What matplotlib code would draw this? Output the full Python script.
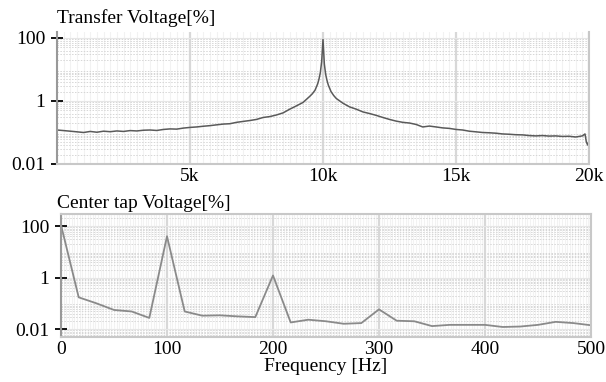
import matplotlib
matplotlib.use("Agg")
import matplotlib.pyplot as plt
import numpy as np
from matplotlib.ticker import FixedLocator, NullFormatter, MultipleLocator

plt.rcParams['font.family'] = ['Liberation Serif', 'DejaVu Serif']

# ---- data: transfer voltage (top) ----
transfer_freq = [0, 250, 500, 750, 1000, 1250, 1500, 1750, 2000, 2250, 2500, 2750,
                 3000, 3250, 3500, 3750, 4000, 4250, 4500, 4750, 5000, 5250, 5500,
                 5750, 6000, 6250, 6500, 6750, 7000, 7250, 7500, 7750, 8000, 8250,
                 8500, 8750, 9000, 9250, 9500, 9600, 9700, 9800, 9850, 9900, 9950,
                 10000, 10050, 10100, 10150, 10200, 10300, 10400, 10500, 10750,
                 11000, 11250, 11500, 11750, 12000, 12250, 12500, 12750, 13000,
                 13250, 13500, 13750, 14000, 14250, 14500, 14750, 15000, 15250,
                 15500, 15750, 16000, 16250, 16500, 16750, 17000, 17250, 17500,
                 17750, 18000, 18250, 18500, 18750, 19000, 19250, 19500, 19750,
                 19850, 19900, 19950, 20000]
transfer_pct = [0.12, 0.115, 0.11, 0.105, 0.10, 0.108, 0.102, 0.11, 0.106, 0.112,
                0.108, 0.115, 0.112, 0.118, 0.12, 0.116, 0.125, 0.13, 0.128, 0.138,
                0.145, 0.15, 0.158, 0.165, 0.175, 0.185, 0.19, 0.21, 0.225, 0.24,
                0.26, 0.3, 0.32, 0.36, 0.42, 0.55, 0.7, 0.9, 1.4, 1.7, 2.2, 3.5, 5,
                8, 18, 90, 15, 7, 4.5, 3.2, 2.0, 1.5, 1.2, 0.85, 0.65, 0.55, 0.45,
                0.4, 0.35, 0.3, 0.26, 0.23, 0.21, 0.2, 0.18, 0.15, 0.16, 0.15, 0.14,
                0.135, 0.125, 0.12, 0.11, 0.105, 0.1, 0.098, 0.095, 0.09, 0.088,
                0.085, 0.084, 0.08, 0.078, 0.08, 0.077, 0.078, 0.075, 0.076, 0.072,
                0.078, 0.09, 0.05, 0.04, 0.055]

# ---- data: center tap voltage (bottom) ----
center_freq = [0, 16.7, 33.3, 50, 66.7, 83.3, 100, 116.7, 133.3, 150, 166.7, 183.3,
               200, 216.7, 233.3, 250, 266.7, 283.3, 300, 316.7, 333.3, 350, 366.7,
               383.3, 400, 416.7, 433.3, 450, 466.7, 483.3, 500]
center_pct = [110, 0.17, 0.1, 0.055, 0.048, 0.027, 40, 0.048, 0.033, 0.034, 0.031,
              0.029, 1.2, 0.018, 0.023, 0.02, 0.016, 0.017, 0.058, 0.021, 0.02,
              0.013, 0.0145, 0.0145, 0.0145, 0.012, 0.0125, 0.0145, 0.019, 0.017,
              0.014]

top_xticks = [5000, 10000, 15000, 20000]
top_xlabels = ['5k', '10k', '15k', '20k']
bot_xticks = [0, 100, 200, 300, 400, 500]
bot_xlabels = ['0', '100', '200', '300', '400', '500']
yticks = [100, 1, 0.01]
ylabels = ['100', '1', '0.01']

W, H = 606, 382
FS = 14
fig = plt.figure(figsize=(W / 100, H / 100), dpi=100)


def px_axes(l, t, r, b):
    return fig.add_axes([l / W, 1 - b / H, (r - l) / W, (b - t) / H])


def style(ax, xticks, xlabels, minor_step):
    ax.set_yscale('log')
    ax.set_yticks(yticks)
    ax.set_yticklabels(ylabels)
    ax.yaxis.set_minor_locator(FixedLocator(
        [m * 10.0 ** e for e in range(-3, 3) for m in range(2, 10)]))
    ax.yaxis.set_minor_formatter(NullFormatter())
    ax.set_xticks(xticks)
    ax.set_xticklabels(xlabels)
    ax.xaxis.set_minor_locator(MultipleLocator(minor_step))
    ax.tick_params(axis='y', which='major', direction='inout', length=9,
                   width=1.3, color='black', labelsize=FS, pad=4)
    ax.tick_params(axis='x', which='major', length=0, labelsize=FS, pad=3)
    ax.tick_params(which='minor', length=0)
    ax.grid(axis='x', which='major', color='#d8d8d8', lw=1.6)
    ax.grid(axis='x', which='minor', color='#f2f2f2', lw=0.8)
    ax.grid(axis='y', which='minor', color='#d6d6d6', lw=0.7, ls=(0, (1.5, 1.5)))
    ax.grid(axis='y', which='major', color='#e6e6e6', lw=0.8)
    ax.set_axisbelow(True)
    for s in ax.spines.values():
        s.set_color('#c8c8c8')
        s.set_linewidth(1.5)
    ax.spines['left'].set_color('#999999')


ax1 = px_axes(57, 32, 589, 164)
ax1.plot(transfer_freq, transfer_pct, color='#5a5a5a', lw=1.1)
ax1.set_xlim(0, 20000)
ax1.set_ylim(0.01, 155)
style(ax1, top_xticks, top_xlabels, 250)
ax1.spines['top'].set_visible(False)
ax1.text(0, 1.04, 'Transfer Voltage[%]', transform=ax1.transAxes,
         fontsize=FS, ha='left', va='bottom')

ax2 = px_axes(61, 214, 591, 337)
ax2.plot(center_freq, center_pct, color='#8a8a8a', lw=1.3)
ax2.set_xlim(0, 500)
ax2.set_ylim(0.0049, 293)
style(ax2, bot_xticks, bot_xlabels, 2.5)
ax2.text(-0.007, 1.02, 'Center tap Voltage[%]', transform=ax2.transAxes,
         fontsize=FS, ha='left', va='bottom')
ax2.set_xlabel('Frequency [Hz]', fontsize=FS, labelpad=0)

fig.savefig('out.png', dpi=100)
